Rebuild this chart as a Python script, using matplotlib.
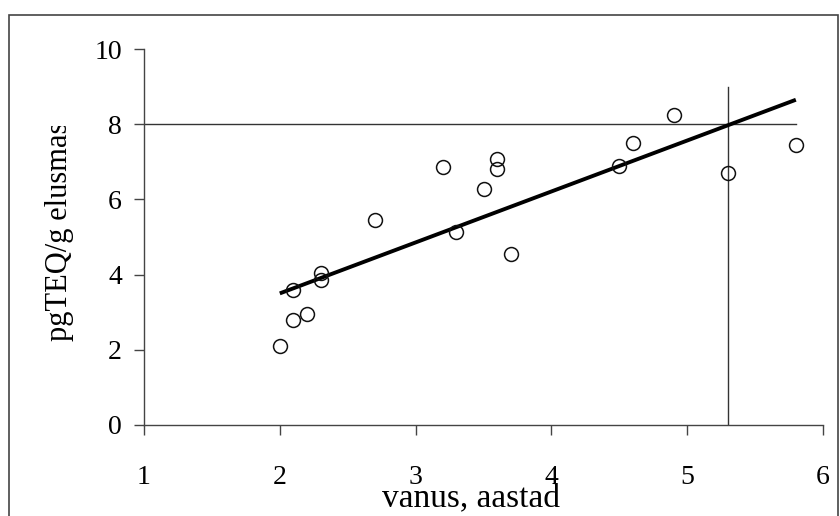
import matplotlib
matplotlib.use("Agg")
import matplotlib.pyplot as plt
import numpy as np
from matplotlib.patches import Rectangle

# andmed: vanus (aastad) ja kontsentratsioon (pgTEQ/g elusmassis)
vanus = [2.0, 2.1, 2.1, 2.2, 2.3, 2.3, 2.7, 3.2, 3.3, 3.5, 3.6, 3.6, 3.7,
         4.5, 4.6, 4.9, 5.3, 5.8]
teq = [2.1, 2.8, 3.6, 2.95, 3.85, 4.03, 5.45, 6.85, 5.12, 6.28, 6.8, 7.08,
       4.55, 6.9, 7.5, 8.24, 6.7, 7.45]

# trendijoon (otspunktid)
trend_x = [2.0, 5.8]
trend_y = [3.5, 8.65]

# piirjooned
piir_y = 8.0
piir_x = 5.3
xticks = [1, 2, 3, 4, 5, 6]
yticks = [0, 2, 4, 6, 8, 10]

plt.rcParams['font.family'] = ['Liberation Serif', 'DejaVu Serif']

fig = plt.figure(figsize=(8.4, 5.16), dpi=100)
W, H = 840.0, 516.0
ax = fig.add_axes([144 / W, 1 - 425 / H, (823 - 144) / W, (425 - 49) / H])

# raam ümber joonise
fig.patches.append(Rectangle((9 / W, -0.05), (838 - 9) / W, 1 - 15 / H + 0.05,
                             transform=fig.transFigure, fill=False,
                             edgecolor='#444444', linewidth=1.2))

ax.plot([xticks[0], trend_x[1]], [piir_y, piir_y], color='#333333', lw=1.0)
ax.plot([piir_x, piir_x], [0, 9], color='#333333', lw=1.0)
ax.plot(trend_x, trend_y, color='black', lw=2.8, solid_capstyle='butt')
ax.plot(vanus, teq, 'o', ms=10, mfc='none', mec='#111111', mew=1.1)

ax.set_xlim(1, 6)
ax.set_ylim(0, 10)
ax.set_xticks(xticks)
ax.set_yticks(yticks)
ax.spines['top'].set_visible(False)
ax.spines['right'].set_visible(False)
for s in ['left', 'bottom']:
    ax.spines[s].set_color('#444444')
    ax.spines[s].set_linewidth(1.0)
ax.tick_params(axis='x', direction='out', length=7, width=1, color='#444444',
               pad=22, labelsize=20)
ax.tick_params(axis='y', direction='out', length=7, width=1, color='#444444',
               pad=9, labelsize=20)

fig.text(471 / W, 1 - 506 / H, 'vanus, aastad', ha='center', va='baseline',
         fontsize=24)
yl = fig.text(60 / W, 1 - 341 / H, 'pgTEQ/g elusmassis', ha='center',
              va='bottom', rotation=90, fontsize=22)
clip = Rectangle((0, 0), 1, 1 - 126 / H, transform=fig.transFigure)
yl.set_clip_path(clip)
yl.set_clip_on(True)

fig.savefig('out.png', dpi=100)
